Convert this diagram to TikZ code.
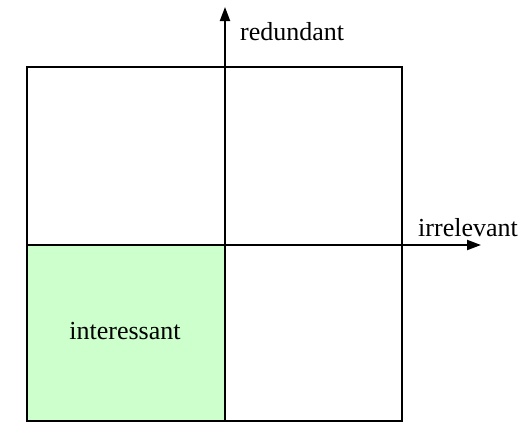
\documentclass[tikz,border=0pt]{standalone}
\usepackage{fontspec}
\setmainfont{Liberation Serif}
\usetikzlibrary{arrows.meta}
\begin{document}
\begin{tikzpicture}[x=1pt,y=-1pt,
  box/.style={draw=black,line width=2pt},
  axis/.style={line width=2pt,-{Triangle[length=14pt,width=10pt]}},
  lbl/.style={font=\fontsize{26}{30}\selectfont,inner sep=0pt}]
\useasboundingbox (0,0) rectangle (524,440);
\fill[fill={rgb,255:red,204;green,255;blue,204}] (27,245) rectangle (225,421);
\draw[box] (27,67) rectangle (402,421);
\coordinate (vb) at (225,421);
\coordinate (vt) at (225,7);
\coordinate (hl) at (27,245);
\coordinate (hr) at (481,245);
\draw[axis] (vb) -- (vt);
\draw[axis] (hl) -- (hr);
\node[lbl,anchor=base west] (red) at (240,40) {redundant};
\node[lbl,anchor=base west] (irr) at (418,236) {irrelevant};
\node[lbl] (int) at (125,331) {interessant};
\end{tikzpicture}
\end{document}
